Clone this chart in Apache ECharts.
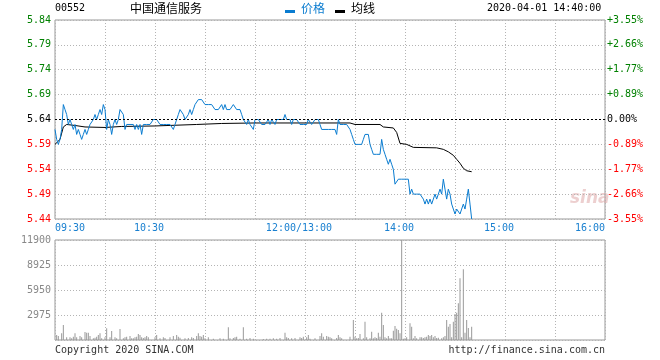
<!DOCTYPE html>
<html><head><meta charset="utf-8">
<script src="https://cdn.jsdelivr.net/npm/echarts@6/dist/echarts.min.js"></script>
<style>html,body{margin:0;padding:0;background:#fff}#c{width:660px;height:360px}</style>
</head><body><div id="c"></div>
<script>
// ---- data ----
var prevClose = 5.64;
var timeLabels = {0:'09:30', 60:'10:30', 150:'12:00/13:00', 210:'14:00', 270:'15:00', 330:'16:00'};
// price per minute from 09:30 (index 0) to 14:40 (index 250)
var prices = [
5.62,5.60,5.59,5.60,5.62,5.67,5.66,5.65,5.63,5.64,
5.63,5.62,5.63,5.61,5.62,5.61,5.60,5.61,5.62,5.61,
5.62,5.63,5.63,5.64,5.65,5.64,5.65,5.66,5.65,5.67,
5.66,5.62,5.64,5.63,5.61,5.63,5.64,5.63,5.64,5.66,
5.66,5.65,5.62,5.63,5.63,5.63,5.63,5.63,5.62,5.63,
5.62,5.63,5.61,5.63,5.63,5.63,5.63,5.63,5.63,5.64,
5.64,5.64,5.64,5.63,5.63,5.63,5.63,5.63,5.63,5.63,
5.63,5.62,5.63,5.64,5.65,5.66,5.66,5.65,5.64,5.64,
5.65,5.66,5.65,5.66,5.67,5.67,5.68,5.68,5.68,5.68,
5.67,5.67,5.67,5.67,5.67,5.67,5.66,5.66,5.66,5.66,
5.67,5.66,5.67,5.66,5.66,5.66,5.66,5.67,5.67,5.66,
5.66,5.66,5.65,5.64,5.64,5.63,5.64,5.63,5.63,5.62,
5.64,5.64,5.64,5.64,5.63,5.63,5.63,5.63,5.64,5.63,
5.64,5.64,5.63,5.64,5.64,5.64,5.64,5.64,5.65,5.64,
5.64,5.64,5.63,5.64,5.64,5.64,5.64,5.63,5.63,5.63,
5.63,5.63,5.64,5.64,5.63,5.63,5.64,5.64,5.64,5.63,
5.62,5.62,5.62,5.62,5.62,5.62,5.62,5.62,5.62,5.61,
5.64,5.63,5.63,5.63,5.63,5.63,5.63,5.62,5.61,5.60,
5.59,5.59,5.59,5.59,5.59,5.60,5.61,5.61,5.61,5.59,
5.58,5.57,5.57,5.57,5.57,5.57,5.60,5.58,5.57,5.56,
5.55,5.56,5.55,5.54,5.51,5.51,5.52,5.52,5.52,5.52,
5.52,5.52,5.52,5.49,5.50,5.49,5.49,5.49,5.49,5.49,
5.49,5.48,5.47,5.48,5.47,5.48,5.47,5.48,5.49,5.48,
5.49,5.50,5.49,5.52,5.50,5.48,5.50,5.49,5.47,5.46,
5.45,5.46,5.46,5.45,5.46,5.47,5.46,5.48,5.50,5.47,
5.44
];
var avgMinutes = [0,3,5,7,12,18,30,40,60,85,100,120,150,171,177,180,195,197,203,205,207,211,215,229,233,236,239,241,243,245,247,250];
var avgValues  = [5.59,5.60,5.625,5.63,5.628,5.625,5.624,5.626,5.627,5.630,5.632,5.633,5.633,5.633,5.633,5.630,5.630,5.625,5.623,5.614,5.592,5.590,5.584,5.583,5.580,5.575,5.568,5.560,5.552,5.542,5.537,5.535];
var volMinutes = [1,2,4,5,7,9,10,11,12,13,15,16,18,19,20,21,23,24,25,26,27,28,30,31,33,34,36,37,39,41,42,43,45,46,47,48,49,50,51,52,53,54,55,56,60,61,63,65,66,69,71,73,74,75,78,80,82,83,85,86,87,88,89,90,92,95,99,101,104,105,107,108,109,111,113,115,117,119,125,127,129,131,133,135,138,139,140,142,144,147,148,149,151,152,153,156,159,160,161,163,164,
165,166,169,170,171,172,177,179,180,181,182,183,185,186,187,189,190,191,192,193,194,195,196,197,198,199,200,201,202,203,204,205,206,207,208,209,210,211,213,214,215,216,217,219,220,221,222,223,224,225,226,227,228,229,230,232,233,234,235,236,237,238,239,240,241,242,243,244,245,246,247,248,249,250];
var volValues = [595,476,793,1785,317,317,198,397,793,317,476,317,952,873,873,476,198,278,397,595,793,198,317,1388,317,1071,317,198,1309,198,317,397,476,198,198,317,397,714,595,317,238,317,476,317,317,595,198,317,238,317,476,595,397,278,198,238,317,238,476,793,476,397,595,198,317,159,198,159,1507,198,238,317,397,159,1507,159,238,159,119,159,159,198,159,238,873,317,238,198,238,317,238,397,317,595,159,198,476,793,397,476,397,
317,198,238,595,317,198,397,2380,397,198,238,714,198,2182,317,198,992,198,317,238,873,397,3253,1785,317,198,476,198,198,1110,1666,1348,1190,793,11900,159,198,317,1983,1586,198,476,198,317,317,238,317,397,595,476,595,317,476,238,278,198,317,476,2380,1586,1904,317,2182,3094,3253,4363,7340,317,8410,873,2380,1428,317,1586];

// ---- chart ----
var mono = 'DejaVu Sans Mono';
var chart = echarts.init(document.getElementById('c'), null, {renderer:'canvas'});
function pctLabel(v){
  var p = (v - prevClose) / prevClose * 100;
  var s = Math.abs(p) < 0.005 ? '0.00' : p.toFixed(2);
  return (p > 0.005 ? '+' : '') + s + '%';
}
function upDownColor(v){
  v = parseFloat(v);
  if (Math.abs(v - prevClose) < 1e-6) return '#000000';
  return v > prevClose ? '#008000' : '#ff0000';
}
function timeLabel(v){
  var t = timeLabels[v];
  if (!t) return '';
  return (v === 0 || v === 330) ? t : t + '  ';
}
var dotted = {color:'#b4b4b4', type:[1,2], width:1};
var splitColors = ['#b4b4b4','#b4b4b4','#b4b4b4','#b4b4b4','rgba(0,0,0,0)','#b4b4b4','#b4b4b4','#b4b4b4','#b4b4b4'];
chart.setOption({
  animation:false,
  grid:[
    {left:55, top:20, width:550, height:199, show:true, borderColor:'#999', borderWidth:1},
    {left:55, top:240, width:550, height:100, show:true, borderColor:'#999', borderWidth:1}
  ],
  xAxis:[
    {type:'value', gridIndex:0, min:0, max:330, interval:30,
     axisLine:{show:false}, axisTick:{show:false},
     splitLine:{show:true, lineStyle:dotted},
     axisLabel:{show:true, margin:4, fontFamily:mono, fontSize:10, color:'#1a80d0',
       alignMinLabel:'left', alignMaxLabel:'right', showMinLabel:true, showMaxLabel:true,
       formatter:timeLabel}},
    {type:'value', gridIndex:1, min:0, max:330, interval:30,
     axisLine:{show:false}, axisTick:{show:false}, axisLabel:{show:false},
     splitLine:{show:true, lineStyle:dotted}}
  ],
  yAxis:[
    {type:'value', gridIndex:0, min:5.44, max:5.84, interval:0.05, position:'left',
     axisLine:{show:false}, axisTick:{show:false},
     splitLine:{show:true, lineStyle:{color:splitColors, type:[1,2], width:1}},
     axisLabel:{margin:4, fontFamily:mono, fontSize:10, padding:[0,0,4,0],
       formatter:function(v){ return (+v).toFixed(2); }, color:upDownColor}},
    {type:'value', gridIndex:0, min:5.44, max:5.84, interval:0.05, position:'right',
     axisLine:{show:false}, axisTick:{show:false}, splitLine:{show:false},
     axisLabel:{margin:2, fontFamily:mono, fontSize:10, padding:[0,0,4,0],
       formatter:function(v){ return pctLabel(+v); }, color:upDownColor}},
    {type:'value', gridIndex:1, min:0, max:11900, interval:2975,
     axisLine:{show:false}, axisTick:{show:false},
     splitLine:{show:true, lineStyle:dotted},
     axisLabel:{margin:4, fontFamily:mono, fontSize:10, color:'#888', showMinLabel:false, padding:[0,0,4,0],
       formatter:function(v){ return String(Math.round(v)); }}}
  ],
  series:[
    {type:'line', name:'均线', xAxisIndex:0, yAxisIndex:0, showSymbol:false, symbol:'none',
     lineStyle:{color:'#000', width:1}, data: avgMinutes.map(function(t,i){return [t, avgValues[i]];}), z:3},
    {type:'line', name:'价格', xAxisIndex:0, yAxisIndex:0, showSymbol:false, symbol:'none',
     lineStyle:{color:'#0a7cd0', width:1}, data: prices.map(function(v,i){return [i, v];}), z:4,
     markLine:{silent:true, symbol:'none', label:{show:false},
       lineStyle:{color:'#000', type:[2,2], width:1}, data:[{yAxis:prevClose}]}},
    {type:'bar', name:'成交量', xAxisIndex:1, yAxisIndex:2, barWidth:1,
     itemStyle:{color:'#999'}, data: volMinutes.map(function(t,i){return [t, volValues[i]];})}
  ],
  graphic:[
    {type:'text', left:55, top:3, style:{text:'00552', font:'10px "DejaVu Sans Mono"', fill:'#000'}},
    {type:'text', left:130, top:2, style:{text:'中国通信服务', font:'12px "Noto Sans CJK SC"', fill:'#000'}},
    {type:'rect', shape:{x:285, y:10, width:10, height:3}, style:{fill:'#0a7cd0'}},
    {type:'text', left:301, top:2, style:{text:'价格', font:'12px "Noto Sans CJK SC"', fill:'#0a7cd0'}},
    {type:'rect', shape:{x:335, y:10, width:10, height:3}, style:{fill:'#000'}},
    {type:'text', left:351, top:2, style:{text:'均线', font:'12px "Noto Sans CJK SC"', fill:'#000'}},
    {type:'text', left:487, top:3, style:{text:'2020-04-01 14:40:00', font:'10px "DejaVu Sans Mono"', fill:'#000'}},
    {type:'text', left:55, top:345, style:{text:'Copyright 2020 SINA.COM', font:'10px "DejaVu Sans Mono"', fill:'#333'}},
    {type:'text', right:55, top:345, style:{text:'http://finance.sina.com.cn', font:'10px "DejaVu Sans Mono"', fill:'#333'}},
    {type:'text', left:570, top:190, style:{text:'sina', font:'italic bold 17px "DejaVu Sans"', fill:'rgba(220,160,160,0.5)'}}
  ]
});
</script></body></html>
